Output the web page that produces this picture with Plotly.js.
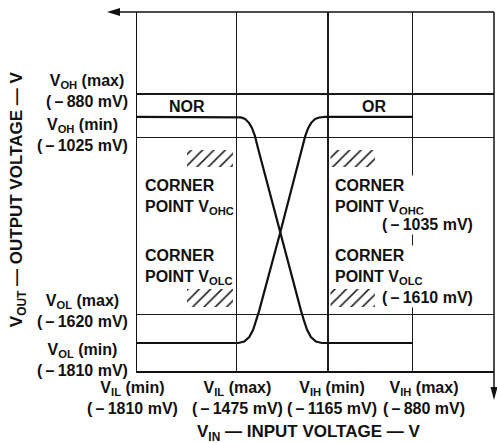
<!DOCTYPE html>
<html>
<head>
<meta charset="utf-8">
<script src="https://cdn.plot.ly/plotly-3.0.1.min.js"></script>
<style>
  html, body { margin: 0; padding: 0; background: #fff; }
  #chart { width: 497px; height: 443px; }
</style>
</head>
<body>
<div id="chart"></div>
<script>
// ECL transfer characteristic: input voltage levels (mV)
const vinLevels = [-1810, -1475, -1165, -880];
const vinNames = ['V<sub>IL</sub> (min)', 'V<sub>IL</sub> (max)', 'V<sub>IH</sub> (min)', 'V<sub>IH</sub> (max)'];

// Output voltage levels (mV)
const voutLevels = [-880, -1025, -1620, -1810];
const voutNames = ['V<sub>OH</sub> (max)', 'V<sub>OH</sub> (min)', 'V<sub>OL</sub> (max)', 'V<sub>OL</sub> (min)'];

// NOR output vs input (mV)
const norVin  = [-1810, -1475, -1459, -1445, -1432, -1422, -1412, -1402, -1327, -1256, -1246, -1236, -1223, -1206, -1186, -880];
const norVout = [-957, -957, -959, -964, -977, -994, -1021, -1061, -1347, -1609, -1642, -1672, -1696, -1711, -1716, -1716];

// OR output vs input (mV)
const orVin  = [-1810, -1468, -1448, -1431, -1418, -1408, -1398, -1327, -1252, -1242, -1232, -1222, -1209, -1195, -1175, -880];
const orVout = [-1716, -1716, -1711, -1696, -1672, -1642, -1609, -1347, -1061, -1021, -994, -977, -964, -959, -957, -957];

// Corner point levels (mV)
const cornerNames = ['V<sub>OHC</sub>', 'V<sub>OLC</sub>'];
const cornerValues = [-1035, -1610];

// Hatched corner-point regions (mV)
const hatchVinLo  = [-1641, -1641, -1157, -1157];
const hatchVinHi  = [-1486, -1486, -1007, -1007];
const hatchVoutLo = [-1125, -1595, -1125, -1595];
const hatchVoutHi = [-1068, -1535, -1068, -1535];

const INK = '#111';
const FONT = { family: 'Liberation Sans, Arial, sans-serif', size: 16, color: INK, weight: 'bold' };
const TITLE_FONT = Object.assign({}, FONT, { size: 17 });
const mv = v => '(\u2009\u2013\u2009' + Math.abs(v) + ' mV)';

const traces = [
  {
    type: 'bar',
    x: hatchVinLo.map((lo, i) => (lo + hatchVinHi[i]) / 2),
    width: hatchVinLo.map((lo, i) => hatchVinHi[i] - lo),
    base: hatchVoutLo,
    y: hatchVoutLo.map((lo, i) => hatchVoutHi[i] - lo),
    marker: {
      color: 'white',
      line: { width: 0 },
      pattern: { shape: '/', fgcolor: '#222', bgcolor: 'white', size: 8, solidity: 0.2, fillmode: 'replace' }
    },
    hoverinfo: 'skip', showlegend: false
  },
  {
    type: 'scatter', mode: 'lines', name: 'NOR',
    x: norVin, y: norVout,
    line: { color: INK, width: 2.2 },
    showlegend: false
  },
  {
    type: 'scatter', mode: 'lines', name: 'OR',
    x: orVin, y: orVout,
    line: { color: INK, width: 2.2 },
    showlegend: false
  }
];

const annotations = [];

// output level labels, left of the plot
const voutShift = [3, 2, 3, 11];
voutLevels.forEach((v, i) => {
  annotations.push({
    xref: 'paper', yref: 'y', x: 0, y: v, xanchor: 'right', yanchor: 'middle',
    xshift: -7, yshift: voutShift[i], align: 'center', showarrow: false,
    text: voutNames[i] + '<br>' + mv(v), font: FONT
  });
});

// input level labels, below the plot
const vinShift = [-5, 1, 4, 11];
vinLevels.forEach((v, i) => {
  annotations.push({
    xref: 'x', yref: 'paper', x: v, y: 0, xanchor: 'center', yanchor: 'top',
    xshift: vinShift[i], yshift: -6, align: 'center', showarrow: false,
    text: vinNames[i] + '<br>' + mv(v), font: FONT
  });
});

// gate labels
annotations.push({ xref: 'x', yref: 'y', x: (vinLevels[0] + vinLevels[1]) / 2, y: -918, yshift: -1,
  xanchor: 'center', yanchor: 'middle', text: 'NOR', showarrow: false, font: FONT });
annotations.push({ xref: 'x', yref: 'y', x: (vinLevels[2] + vinLevels[3]) / 2, y: -918, xshift: 4, yshift: -1,
  xanchor: 'center', yanchor: 'middle', text: 'OR', showarrow: false, font: FONT });

// corner point labels
const cornerRowsY = [0.484, 0.29];
cornerNames.forEach((n, i) => {
  annotations.push({ xref: 'x', yref: 'paper', x: vinLevels[0], y: cornerRowsY[i], xanchor: 'left', yanchor: 'middle',
    xshift: 6, align: 'left', showarrow: false, text: 'CORNER<br>POINT ' + n, font: FONT });
  annotations.push({ xref: 'x', yref: 'paper', x: vinLevels[2], y: cornerRowsY[i], xanchor: 'left', yanchor: 'middle',
    xshift: 5, align: 'left', showarrow: false, text: 'CORNER<br>POINT ' + n, font: FONT, bgcolor: 'white' });
});
const cornerValueY = [0.407, 0.206];
cornerValues.forEach((v, i) => {
  annotations.push({ xref: 'x', yref: 'paper', x: vinLevels[3], y: cornerValueY[i], xanchor: 'center', yanchor: 'middle',
    xshift: 15, showarrow: false, text: mv(v), font: FONT, bgcolor: 'white' });
});

// axis titles
annotations.push({ xref: 'paper', yref: 'paper', x: -0.333, y: 0.479, xanchor: 'center', yanchor: 'middle',
  textangle: -90, showarrow: false,
  text: 'V<sub>OUT</sub> \u2014 OUTPUT VOLTAGE \u2014 V', font: TITLE_FONT });
annotations.push({ xref: 'paper', yref: 'paper', x: 0.482, y: -0.1727, xanchor: 'center', yanchor: 'middle',
  showarrow: false,
  text: 'V<sub>IN</sub> \u2014 INPUT VOLTAGE \u2014 V', font: TITLE_FONT });

const axisLine = { color: INK, width: 1.5 };
const shapes = [
  // top axis with arrow pointing left
  { type: 'line', xref: 'paper', yref: 'paper', x0: -0.06, x1: 1, y0: 1, y1: 1, line: axisLine, layer: 'above' },
  { type: 'path', xref: 'paper', yref: 'paper', xsizemode: 'pixel', ysizemode: 'pixel',
    xanchor: -0.084, yanchor: 1, path: 'M0,0L13,4L13,-4Z', fillcolor: INK, line: { width: 0 }, layer: 'above' },
  // right axis with arrow pointing down
  { type: 'line', xref: 'paper', yref: 'paper', x0: 1, x1: 1, y0: -0.06, y1: 1, line: axisLine, layer: 'above' },
  { type: 'path', xref: 'paper', yref: 'paper', xsizemode: 'pixel', ysizemode: 'pixel',
    xanchor: 1, yanchor: -0.081, path: 'M0,0L-3.5,13L3.5,13Z', fillcolor: INK, line: { width: 0 }, layer: 'above' }
];

const layout = {
  width: 497, height: 443,
  margin: { l: 137, r: 3, t: 12, b: 72 },
  paper_bgcolor: 'white', plot_bgcolor: 'white',
  showlegend: false,
  barmode: 'overlay',
  xaxis: {
    range: [-1810, -605], tickvals: vinLevels, showticklabels: false, ticks: '',
    showgrid: true, gridcolor: '#1a1a1a', gridwidth: 1.2, zeroline: false,
    showline: true, linecolor: INK, linewidth: 1.5, fixedrange: true
  },
  yaxis: {
    range: [-1810, -605], tickvals: voutLevels, showticklabels: false, ticks: '',
    showgrid: true, gridcolor: '#1a1a1a', gridwidth: 1.2, zeroline: false,
    showline: true, linecolor: INK, linewidth: 1.5, fixedrange: true
  },
  annotations: annotations,
  shapes: shapes
};

Plotly.newPlot('chart', traces, layout, { displayModeBar: false, staticPlot: true });
</script>
</body>
</html>
